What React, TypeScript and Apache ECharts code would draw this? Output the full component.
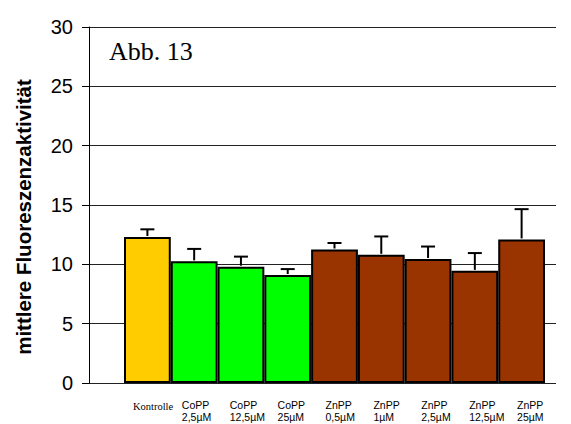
import React, { useEffect, useRef } from "react";
import * as echarts from "echarts";

const categories = [
  "Kontrolle",
  "CoPP\n2,5µM",
  "CoPP\n12,5µM",
  "CoPP\n25µM",
  "ZnPP\n0,5µM",
  "ZnPP\n1µM",
  "ZnPP\n2,5µM",
  "ZnPP\n12,5µM",
  "ZnPP\n25µM",
];
const groups = ["Kontrolle", "CoPP", "CoPP", "CoPP", "ZnPP", "ZnPP", "ZnPP", "ZnPP", "ZnPP"];
const values = [12.3, 10.25, 9.8, 9.1, 11.25, 10.8, 10.45, 9.45, 12.1];
const errors = [0.65, 1.05, 0.85, 0.5, 0.55, 1.55, 1.05, 1.5, 2.55];
const yTicks = [0, 5, 10, 15, 20, 25, 30];
const groupColors: Record<string, string> = {
  Kontrolle: "#FFCC00",
  CoPP: "#00FF00",
  ZnPP: "#993300",
};
const yTitle = "mittlere Fluoreszenzaktivität";
const figLabel = "Abb. 13";

export default function App() {
  const ref = useRef<HTMLDivElement>(null);
  useEffect(() => {
    if (!ref.current) return;
    const chart = echarts.init(ref.current, undefined, { renderer: "svg" });
    const yMin = yTicks[0];
    const yMax = yTicks[yTicks.length - 1];
    const yStep = yTicks[1] - yTicks[0];
    chart.setOption({
      animation: false,
      backgroundColor: "#fff",
      grid: [
        { left: 89, right: 15, top: 27, bottom: 41 },
        { left: 124, right: 26, top: 27, bottom: 41 },
        { left: 110, right: 30, top: 27, bottom: 41 },
      ],
      xAxis: [
        { gridIndex: 0, type: "value", min: 0, max: 1, show: false },
        {
          gridIndex: 1,
          type: "category",
          data: categories,
          axisLine: { show: false },
          axisTick: { show: false },
          axisLabel: { show: false },
        },
        {
          gridIndex: 2,
          type: "category",
          data: categories,
          axisLine: { show: false },
          axisTick: { show: false },
          axisLabel: {
            show: true,
            interval: 0,
            align: "left",
            verticalAlign: "top",
            margin: 16,
            fontFamily: "Arial, Liberation Sans, sans-serif",
            fontSize: 10.5,
            lineHeight: 12,
            color: "#000",
            formatter: (v: string) => (v === "Kontrolle" ? "{k|" + v + "}" : v),
            rich: {
              k: {
                fontFamily: "Times New Roman, Liberation Serif, serif",
                fontSize: 10.5,
                color: "#000",
                padding: [2, 0, 0, -1],
              },
            },
          },
        },
      ],
      yAxis: [
        {
          gridIndex: 0,
          type: "value",
          min: yMin,
          max: yMax,
          interval: yStep,
          axisLine: { show: true, lineStyle: { color: "#000", width: 1 } },
          axisTick: { show: true, length: 7, lineStyle: { color: "#000", width: 1 } },
          axisLabel: {
            margin: 16,
            fontFamily: "Arial, Liberation Sans, sans-serif",
            fontSize: 20,
            color: "#000",
          },
          splitLine: { show: true, lineStyle: { color: "#222", width: 1 } },
        },
        { gridIndex: 1, type: "value", min: yMin, max: yMax, show: false },
        { gridIndex: 2, type: "value", min: yMin, max: yMax, show: false },
      ],
      series: [
        {
          type: "bar",
          xAxisIndex: 1,
          yAxisIndex: 1,
          barWidth: "100%",
          data: values.map((v, i) => ({
            value: v,
            itemStyle: {
              color: groupColors[groups[i]],
              borderColor: "#000",
              borderWidth: 2,
            },
          })),
        },
        {
          type: "custom",
          xAxisIndex: 1,
          yAxisIndex: 1,
          data: values.map((v, i) => [i, v, v + errors[i]]),
          renderItem: (_params: any, api: any) => {
            const x = api.value(0);
            const base = api.coord([x, api.value(1)]);
            const top = api.coord([x, api.value(2)]);
            const half = 7;
            const style = { stroke: "#000", lineWidth: 2, fill: "none" };
            return {
              type: "group",
              children: [
                { type: "line", shape: { x1: base[0], y1: base[1] - 1, x2: top[0], y2: top[1] }, style },
                { type: "line", shape: { x1: top[0] - half, y1: top[1], x2: top[0] + half, y2: top[1] }, style },
              ],
            };
          },
          z: 3,
        },
      ],
      graphic: [
        {
          type: "text",
          x: 23,
          y: 217,
          rotation: Math.PI / 2,
          style: {
            text: yTitle,
            fontFamily: "Arial, Liberation Sans, sans-serif",
            fontWeight: "bold",
            fontSize: 20.5,
            fill: "#000",
            align: "center",
            verticalAlign: "middle",
          },
        },
        {
          type: "text",
          x: 109,
          y: 51,
          style: {
            text: figLabel,
            fontFamily: "Times New Roman, Liberation Serif, serif",
            fontSize: 26,
            fill: "#000",
            align: "left",
            verticalAlign: "middle",
          },
        },
      ],
    });
    return () => chart.dispose();
  }, []);
  return (
    <div
      ref={ref}
      style={{ position: "fixed", left: 0, top: 0, width: 571, height: 424 }}
    />
  );
}
